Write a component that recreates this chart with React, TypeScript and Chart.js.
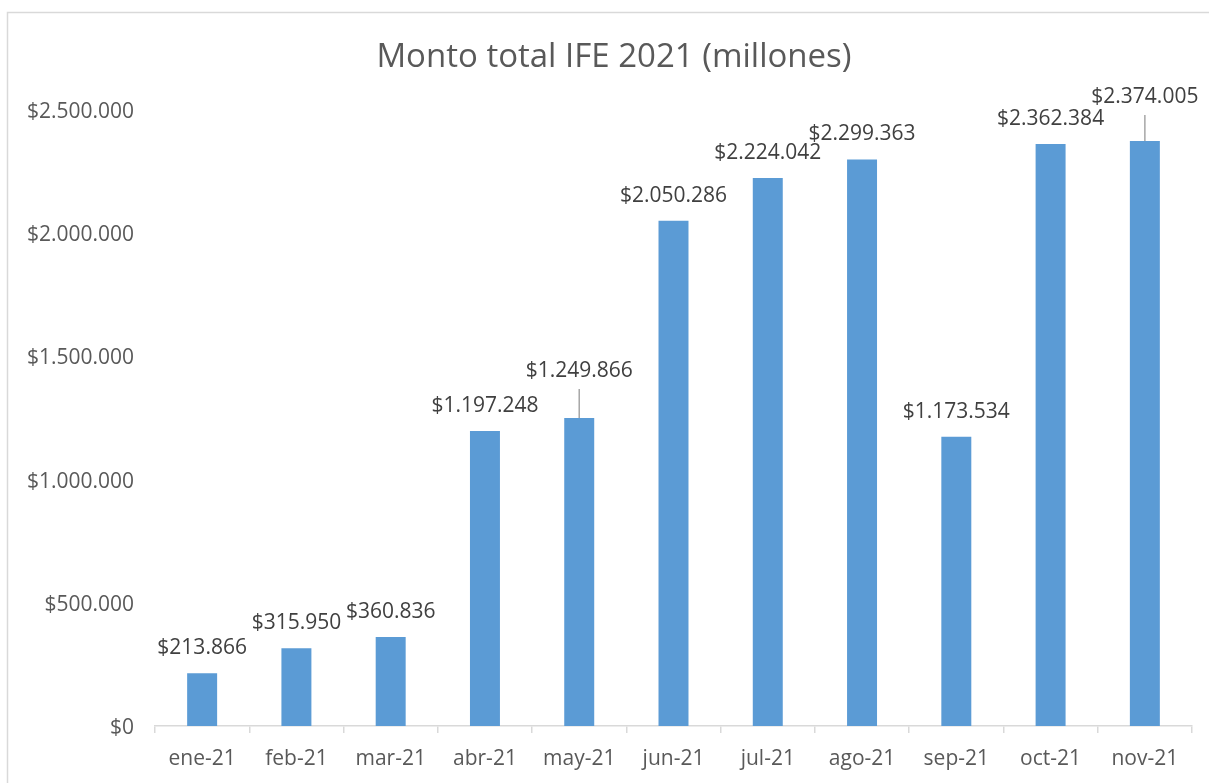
import React, { useEffect, useRef } from "react";
import { Chart, registerables } from "chart.js";

Chart.register(...registerables);

const categories = ["ene-21", "feb-21", "mar-21", "abr-21", "may-21", "jun-21", "jul-21", "ago-21", "sep-21", "oct-21", "nov-21"];
const montos = [213866, 315950, 360836, 1197248, 1249866, 2050286, 2224042, 2299363, 1173534, 2362384, 2374005];
const yTickValues = [0, 500000, 1000000, 1500000, 2000000, 2500000];
const titleText = "Monto total IFE 2021 (millones)";
// extra lift (px) for the data labels that Excel moved up with a leader line
const labelLift = [0, 0, 0, 0, 22, 0, 0, 0, 0, 0, 19];

const fmt = (v: number) => "$" + String(v).replace(/\B(?=(\d{3})+(?!\d))/g, ".");

const FONT = "'Open Sans', 'Liberation Sans', sans-serif";

const borderPlugin = {
  id: "excelBorder",
  beforeDraw(chart: any) {
    const ctx = chart.ctx;
    ctx.save();
    ctx.fillStyle = "#ffffff";
    ctx.fillRect(0, 0, chart.width, chart.height);
    ctx.strokeStyle = "#d9d9d9";
    ctx.lineWidth = 1.5;
    ctx.strokeRect(7.5, 12.5, 1214, 820);
    ctx.restore();
  },
};

// Excel centres the title on the whole chart box (x 7 .. 1221)
const titlePlugin = {
  id: "excelTitle",
  afterDraw(chart: any) {
    const ctx = chart.ctx;
    ctx.save();
    ctx.font = `33px ${FONT}`;
    ctx.fillStyle = "#595959";
    ctx.textAlign = "center";
    ctx.textBaseline = "middle";
    ctx.fillText(titleText, 614, 58);
    ctx.restore();
  },
};

const dataLabelPlugin = {
  id: "excelDataLabels",
  afterDatasetsDraw(chart: any) {
    const ctx = chart.ctx;
    const meta = chart.getDatasetMeta(0);
    const data = chart.data.datasets[0].data as number[];
    ctx.save();
    ctx.font = `21px ${FONT}`;
    ctx.textAlign = "center";
    ctx.textBaseline = "middle";
    meta.data.forEach((el: any, i: number) => {
      const lift = labelLift[i] || 0;
      const cy = el.y - 25 - lift;
      if (lift > 0) {
        ctx.strokeStyle = "#a6a6a6";
        ctx.lineWidth = 1.5;
        ctx.beginPath();
        ctx.moveTo(el.x, cy + 18);
        ctx.lineTo(el.x, el.y);
        ctx.stroke();
      }
      ctx.fillStyle = "#404040";
      ctx.fillText(fmt(data[i]), el.x, cy);
    });
    ctx.restore();
  },
};

export default function App() {
  const ref = useRef<HTMLCanvasElement | null>(null);

  useEffect(() => {
    if (!ref.current) return;
    Chart.defaults.font.family = FONT;
    const chart = new Chart(ref.current, {
      type: "bar",
      data: {
        labels: categories,
        datasets: [
          {
            data: montos,
            backgroundColor: "#5b9bd5",
            borderWidth: 0,
            categoryPercentage: 1,
            barPercentage: 0.318,
          },
        ],
      },
      options: {
        responsive: false,
        animation: false,
        layout: { padding: { left: 0, right: 36, top: 110, bottom: 0 } },
        plugins: {
          legend: { display: false },
          tooltip: { enabled: false },
          title: { display: false },
        },
        scales: {
          x: {
            grid: {
              display: true,
              drawOnChartArea: false,
              drawTicks: true,
              tickLength: 7,
              color: "#d9d9d9",
              lineWidth: 1.5,
              offset: true,
            },
            border: { display: true, color: "#d9d9d9", width: 1.5 },
            ticks: {
              color: "#595959",
              font: { family: FONT, size: 21 },
              padding: 13,
              maxRotation: 0,
              autoSkip: false,
            },
            afterFit: (s: any) => {
              s.height = 57;
            },
          },
          y: {
            min: 0,
            max: 2500000,
            grid: { display: false, drawTicks: false },
            border: { display: false },
            ticks: {
              color: "#595959",
              font: { family: FONT, size: 21 },
              padding: 21,
              labelOffset: 2,
              callback: (v: any) => fmt(Number(v)),
            },
            afterBuildTicks: (s: any) => {
              s.ticks = yTickValues.map((v) => ({ value: v }));
            },
            afterFit: (s: any) => {
              s.width = 155;
            },
          },
        },
      },
      plugins: [borderPlugin, dataLabelPlugin, titlePlugin],
    } as any);
    return () => chart.destroy();
  }, []);

  return (
    <div style={{ position: "fixed", left: 0, top: 0, width: 1209, height: 783, overflow: "hidden", background: "#fff" }}>
      <canvas ref={ref} width={1228} height={783} style={{ display: "block" }} />
    </div>
  );
}
